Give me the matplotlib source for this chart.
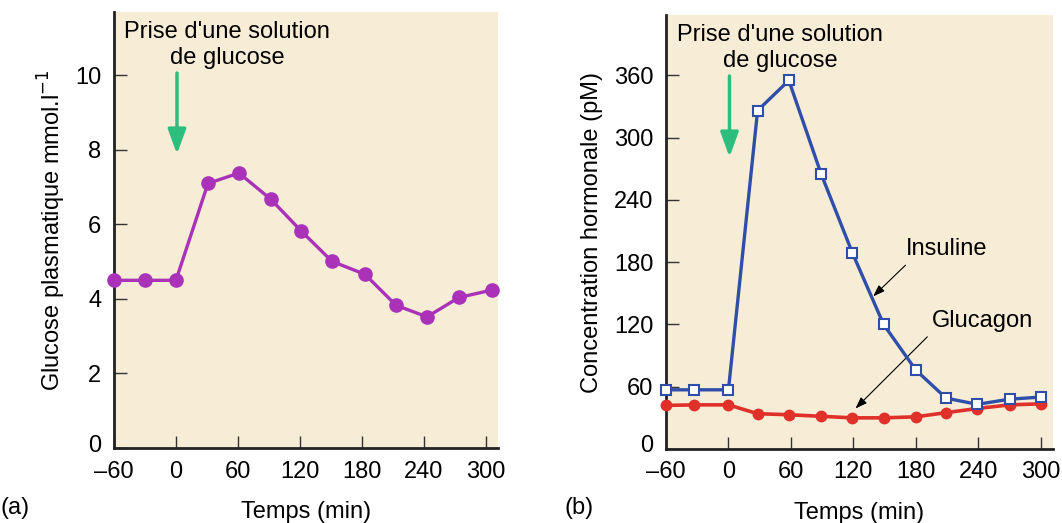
import matplotlib
matplotlib.use("Agg")
import matplotlib.pyplot as plt
from matplotlib.transforms import offset_copy

plt.rcParams['font.family'] = ['Liberation Sans', 'DejaVu Sans']

# (a) glucose plasmatique
temps_a = [-60, -30, 0, 31, 61, 92, 121, 151, 183, 213, 243, 274, 306]
glucose = [4.5, 4.5, 4.5, 7.1, 7.38, 6.67, 5.83, 5.01, 4.66, 3.83, 3.52, 4.04, 4.24]

# (b) hormones
temps_b = [-60, -33, 0, 28, 58, 89, 119, 149, 180, 209, 239, 270, 300]
insuline = [57, 57, 57, 326, 355, 265, 189, 120, 76, 49, 43, 48, 50]
glucagon = [42, 42.5, 42.5, 34, 33, 31.5, 30, 30, 31, 35, 39, 42.5, 43.5]

xticks = [-60, 0, 60, 120, 180, 240, 300]
yticks_a = [0, 2, 4, 6, 8, 10]
yticks_b = [0, 60, 120, 180, 240, 300, 360]

beige = '#f7ecd6'
green = '#2dbe7e'
fs = 17

fig = plt.figure(figsize=(10.62, 5.23), dpi=100)
ax1 = fig.add_axes([0.1073, 0.1434, 0.3616, 0.8336])
ax2 = fig.add_axes([0.6271, 0.1415, 0.3644, 0.8298])

for ax in (ax1, ax2):
    ax.set_facecolor(beige)
    ax.spines['top'].set_visible(False)
    ax.spines['right'].set_visible(False)
    for s in ('left', 'bottom'):
        ax.spines[s].set_linewidth(2)
        ax.spines[s].set_color('#222222')
    ax.tick_params(direction='in', length=9, width=1, color='#333333',
                   labelsize=fs, pad=9)
    ax.set_xticks(xticks)
    ax.set_xticklabels(['\u201360' if t == -60 else str(t) for t in xticks])
    ax.set_xlim(-60, 311.7)

ax1.plot(temps_a, glucose, color='#a932b9', lw=2.4, marker='o', ms=9.5,
         zorder=3, clip_on=False)
ax1.set_ylim(0, 11.7)
ax1.set_yticks(yticks_a)
ax1.set_ylabel('Glucose plasmatique mmol.l$^{\u22121}$', fontsize=fs, labelpad=5)
ax1.set_xlabel('Temps (min)', fontsize=fs, labelpad=13)

ax2.plot(temps_b, glucagon, color='#e0302a', lw=2.6, marker='o', ms=7.5,
         zorder=3, clip_on=False)
ax2.plot(temps_b, insuline, color='#2e4eaa', lw=2.4, marker='s', ms=7,
         mfc='white', mec='#2e4eaa', mew=1.5, zorder=4, clip_on=False)
ax2.set_ylim(0, 418)
ax2.set_yticks(yticks_b)
ax2.set_ylabel('Concentration hormonale (pM)', fontsize=fs, labelpad=8)
ax2.set_xlabel('Temps (min)', fontsize=fs, labelpad=13)

# lift the "0" y label a little, as in the original
for ax in (ax1, ax2):
    lab = ax.get_yticklabels()[0]
    lab.set_transform(offset_copy(lab.get_transform(), fig=fig, x=0, y=5, units='dots'))

# glucose intake annotation
for ax, ymax, h in ((ax1, 11.7, 436), (ax2, 418, 434)):
    ax.text(49.5, ymax * (1 - 33 / h), "Prise d'une solution\nde glucose",
            ha='center', va='center', fontsize=fs, linespacing=1.2)
    ax.annotate('', xy=(1, ymax * (1 - 142 / h)), xytext=(1, ymax * (1 - 61 / h)),
                arrowprops=dict(arrowstyle='-|>,head_length=1.5,head_width=0.55',
                                color=green, lw=2.5, shrinkA=0, shrinkB=0))

ax2.text(210, 193, 'Insuline', ha='center', va='center', fontsize=fs)
ax2.annotate('', xy=(139, 147), xytext=(170, 177),
             arrowprops=dict(arrowstyle='-|>,head_length=0.7,head_width=0.25',
                             color='black', lw=0.8, shrinkA=0, shrinkB=0))
ax2.text(244, 123, 'Glucagon', ha='center', va='center', fontsize=fs)
ax2.annotate('', xy=(122, 39), xytext=(191, 108),
             arrowprops=dict(arrowstyle='-|>,head_length=0.7,head_width=0.25',
                             color='black', lw=0.8, shrinkA=0, shrinkB=0))

fig.text(0.0, 0.028, '(a)', fontsize=fs, ha='left', va='center')
fig.text(0.532, 0.028, '(b)', fontsize=fs, ha='left', va='center')

fig.savefig('out.png', dpi=100)
